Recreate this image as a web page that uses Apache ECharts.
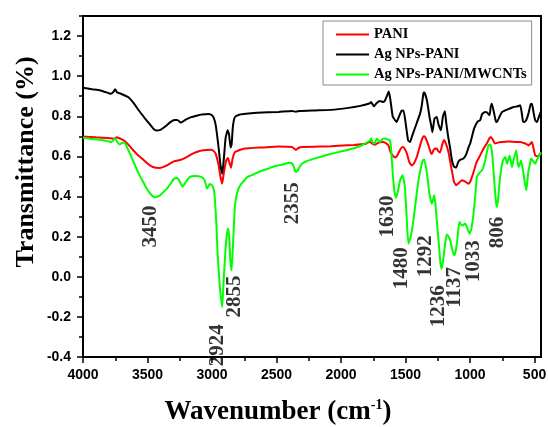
<!DOCTYPE html>
<html>
<head>
<meta charset="utf-8">
<script src="https://cdn.jsdelivr.net/npm/echarts@6/dist/echarts.min.js"></script>
<style>
html,body{margin:0;padding:0;background:#fff;}
#chart{width:548px;height:427px;}
</style>
</head>
<body>
<div id="chart"></div>
<script>
// ---- data (wavenumber cm^-1, transmittance) ----
const seriesNames = ['PANI', 'Ag NPs-PANI', 'Ag NPs-PANI/MWCNTs'];

const pani = [[4000,0.699],[3900,0.695],[3838,0.693],[3756,0.688],[3740,0.695],[3729,0.693],[3700,0.685],[3675,0.676],[3650,0.66],[3621,0.638],[3580,0.61],[3540,0.588],[3500,0.565],[3459,0.547],[3405,0.542],[3350,0.555],[3296,0.575],[3242,0.583],[3200,0.595],[3161,0.610],[3120,0.622],[3080,0.630],[3004,0.633],[2985,0.625],[2971,0.613],[2950,0.56],[2935,0.5],[2921,0.464],[2908,0.52],[2890,0.58],[2877,0.592],[2866,0.57],[2852,0.544],[2842,0.585],[2823,0.621],[2755,0.638],[2600,0.645],[2484,0.650],[2380,0.647],[2365,0.64],[2350,0.632],[2330,0.642],[2300,0.647],[2078,0.651],[1900,0.657],[1807,0.663],[1780,0.673],[1760,0.665],[1740,0.658],[1720,0.665],[1699,0.671],[1672,0.672],[1650,0.665],[1633,0.655],[1615,0.62],[1600,0.605],[1585,0.595],[1568,0.6],[1545,0.63],[1529,0.645],[1517,0.647],[1500,0.63],[1490,0.615],[1470,0.57],[1452,0.555],[1435,0.565],[1413,0.597],[1380,0.67],[1362,0.70],[1348,0.697],[1325,0.66],[1305,0.62],[1296,0.612],[1280,0.635],[1258,0.639],[1245,0.625],[1232,0.62],[1215,0.66],[1201,0.682],[1185,0.66],[1167,0.62],[1150,0.56],[1141,0.53],[1125,0.475],[1108,0.456],[1090,0.465],[1063,0.481],[1040,0.475],[1012,0.464],[995,0.48],[973,0.522],[950,0.57],[922,0.605],[895,0.64],[870,0.664],[850,0.69],[839,0.697],[825,0.685],[806,0.664],[780,0.67],[753,0.672],[700,0.674],[637,0.672],[610,0.672],[585,0.667],[565,0.662],[547,0.655],[530,0.665],[520,0.672],[508,0.64],[495,0.605],[475,0.6],[456,0.614],[450,0.62]];

const agPani = [[4000,0.942],[3930,0.935],[3865,0.929],[3800,0.915],[3783,0.912],[3760,0.925],[3751,0.935],[3735,0.918],[3716,0.915],[3680,0.905],[3648,0.895],[3600,0.86],[3567,0.829],[3520,0.79],[3486,0.763],[3450,0.735],[3432,0.729],[3400,0.732],[3360,0.75],[3323,0.771],[3290,0.782],[3269,0.782],[3242,0.769],[3200,0.785],[3161,0.796],[3120,0.803],[3080,0.809],[3026,0.812],[3000,0.805],[2985,0.79],[2971,0.755],[2950,0.65],[2935,0.56],[2921,0.514],[2908,0.59],[2895,0.69],[2879,0.730],[2868,0.71],[2856,0.644],[2848,0.66],[2838,0.75],[2823,0.796],[2790,0.808],[2755,0.812],[2650,0.818],[2484,0.822],[2380,0.826],[2350,0.823],[2320,0.826],[2200,0.829],[2078,0.832],[1943,0.842],[1850,0.852],[1807,0.859],[1775,0.866],[1767,0.871],[1745,0.85],[1725,0.865],[1699,0.876],[1672,0.871],[1659,0.879],[1645,0.9],[1630,0.923],[1618,0.885],[1600,0.8],[1591,0.79],[1570,0.772],[1550,0.8],[1530,0.828],[1516,0.829],[1500,0.77],[1480,0.68],[1465,0.672],[1450,0.7],[1415,0.763],[1388,0.812],[1375,0.85],[1361,0.915],[1354,0.918],[1334,0.879],[1315,0.8],[1300,0.75],[1292,0.721],[1275,0.79],[1258,0.796],[1245,0.76],[1226,0.730],[1210,0.8],[1195,0.825],[1185,0.77],[1170,0.7],[1154,0.64],[1140,0.58],[1125,0.55],[1108,0.544],[1090,0.575],[1070,0.585],[1051,0.589],[1030,0.61],[1009,0.65],[999,0.664],[968,0.74],[940,0.775],[922,0.78],[906,0.812],[883,0.821],[870,0.82],[849,0.805],[840,0.845],[831,0.863],[815,0.82],[800,0.775],[792,0.771],[770,0.8],[753,0.821],[725,0.83],[698,0.837],[663,0.846],[630,0.85],[611,0.855],[600,0.82],[590,0.775],[580,0.771],[565,0.78],[548,0.812],[530,0.86],[520,0.863],[508,0.82],[495,0.78],[481,0.771],[465,0.8],[450,0.825]];

const agPaniCnt = [[4000,0.693],[3960,0.69],[3946,0.688],[3900,0.685],[3865,0.683],[3800,0.675],[3783,0.671],[3765,0.68],[3751,0.691],[3735,0.672],[3716,0.660],[3695,0.668],[3675,0.666],[3655,0.64],[3635,0.613],[3600,0.56],[3567,0.513],[3540,0.48],[3513,0.447],[3480,0.415],[3445,0.397],[3405,0.405],[3380,0.42],[3350,0.439],[3320,0.465],[3296,0.488],[3269,0.492],[3250,0.475],[3229,0.450],[3200,0.475],[3174,0.497],[3134,0.502],[3080,0.497],[3060,0.485],[3053,0.472],[3039,0.439],[3025,0.455],[3017,0.463],[2998,0.455],[2985,0.43],[2977,0.380],[2965,0.25],[2958,0.131],[2945,0.0],[2935,-0.08],[2921,-0.151],[2909,-0.01],[2895,0.14],[2885,0.21],[2875,0.240],[2866,0.19],[2858,0.08],[2848,0.032],[2838,0.15],[2823,0.347],[2805,0.42],[2782,0.455],[2750,0.48],[2728,0.497],[2680,0.51],[2620,0.527],[2560,0.54],[2511,0.552],[2450,0.56],[2403,0.568],[2376,0.563],[2362,0.54],[2352,0.522],[2335,0.53],[2322,0.547],[2300,0.565],[2268,0.576],[2200,0.59],[2078,0.613],[1943,0.633],[1850,0.652],[1807,0.666],[1775,0.680],[1767,0.69],[1750,0.664],[1735,0.67],[1723,0.689],[1698,0.672],[1680,0.685],[1659,0.689],[1640,0.685],[1620,0.680],[1610,0.62],[1599,0.514],[1585,0.42],[1573,0.394],[1555,0.44],[1542,0.481],[1524,0.506],[1510,0.47],[1503,0.431],[1490,0.28],[1478,0.165],[1460,0.2],[1439,0.281],[1420,0.38],[1400,0.481],[1380,0.545],[1366,0.580],[1355,0.585],[1340,0.54],[1325,0.47],[1315,0.414],[1296,0.364],[1278,0.406],[1268,0.36],[1258,0.281],[1240,0.15],[1230,0.07],[1219,0.040],[1205,0.1],[1190,0.18],[1180,0.211],[1165,0.2],[1154,0.182],[1135,0.13],[1121,0.107],[1105,0.15],[1090,0.24],[1082,0.273],[1066,0.258],[1056,0.256],[1038,0.265],[1020,0.24],[1004,0.215],[990,0.24],[973,0.315],[960,0.4],[947,0.497],[925,0.52],[908,0.530],[895,0.55],[883,0.580],[870,0.62],[857,0.655],[844,0.66],[831,0.630],[822,0.56],[813,0.481],[800,0.38],[792,0.348],[782,0.39],[772,0.464],[760,0.53],[745,0.580],[727,0.597],[714,0.564],[704,0.58],[694,0.605],[675,0.547],[660,0.59],[642,0.630],[633,0.58],[624,0.547],[615,0.56],[605,0.580],[590,0.530],[575,0.47],[564,0.431],[555,0.48],[547,0.530],[536,0.56],[526,0.589],[510,0.575],[495,0.564],[480,0.585],[470,0.597],[450,0.62]];

// peak annotations: label text, anchor wavenumber, anchor transmittance
const peakLabels = ['3450','2924','2855','2355','1630','1480','1292','1236','1137','1033','806'];
const peakX = [3475, 2955, 2823, 2373, 1643, 1527, 1341, 1247, 1123, 976, 790];
const peakY = [0.251, -0.342, -0.098, 0.366, 0.301, 0.042, 0.102, -0.147, -0.053, 0.077, 0.221];

// axis ticks
const xMajorTicks = [500, 1000, 1500, 2000, 2500, 3000, 3500, 4000];
const xMinorTicks = [750, 1250, 1750, 2250, 2750, 3250, 3750];
const yMajorTicks = [-0.4, -0.2, 0.0, 0.2, 0.4, 0.6, 0.8, 1.0, 1.2];
const yMinorTicks = [-0.3, -0.1, 0.1, 0.3, 0.5, 0.7, 0.9, 1.1, 1.3];
const xRange = [450, 4000];
const yRange = [-0.4, 1.3];

const colors = ['#ff0000', '#000000', '#00ff00'];
const serif = "'Liberation Serif', 'Times New Roman', serif";
const sans = "'Liberation Sans', Arial, sans-serif";

const gridBox = { left: 83, right: 7, top: 16, bottom: 70, containLabel: false, outerBoundsMode: 'none' };

const chart = echarts.init(document.getElementById('chart'), null, { renderer: 'canvas' });

const lineSeries = [pani, agPani, agPaniCnt].map((d, i) => ({
  name: seriesNames[i],
  type: 'line',
  xAxisIndex: 0,
  yAxisIndex: 0,
  data: d,
  symbol: 'none',
  showSymbol: false,
  smooth: 0.15,
  lineStyle: { color: colors[i], width: 2 },
  itemStyle: { color: colors[i] },
  z: 3 + i,
  silent: true,
  animation: false
}));

const annoSeries = {
  type: 'scatter',
  xAxisIndex: 0,
  yAxisIndex: 0,
  symbolSize: 0,
  silent: true,
  z: 10,
  data: peakLabels.map((t, i) => ({ name: t, value: [peakX[i], peakY[i]] })),
  label: {
    show: true,
    position: 'inside',
    rotate: 90,
    formatter: p => p.name,
    fontFamily: serif,
    fontWeight: 'bold',
    fontSize: 21,
    color: '#000',
    align: 'center',
    verticalAlign: 'middle'
  },
  animation: false
};

chart.setOption({
  animation: false,
  backgroundColor: '#fff',
  grid: [
    Object.assign({ show: true, borderColor: '#000', borderWidth: 2, backgroundColor: 'transparent' }, gridBox),
    Object.assign({ show: false }, gridBox)
  ],
  legend: {
    data: seriesNames,
    orient: 'vertical',
    left: 323,
    top: 21,
    itemWidth: 33,
    itemHeight: 14,
    itemGap: 5,
    padding: [6, 5, 3, 12],
    borderColor: '#8a8a8a',
    borderWidth: 1,
    backgroundColor: '#fff',
    itemStyle: { color: 'rgba(0,0,0,0)', borderColor: 'rgba(0,0,0,0)', borderWidth: 0, opacity: 0 },
    textStyle: { fontFamily: serif, fontWeight: 'bold', fontSize: 14.5, color: '#000' }
  },
  xAxis: [
    {
      type: 'value', gridIndex: 0, min: xRange[0], max: xRange[1], inverse: true, position: 'bottom',
      axisLine: { show: true, onZero: false, lineStyle: { color: '#000', width: 2 } },
      axisTick: { show: true, customValues: xMajorTicks, length: 6, lineStyle: { color: '#000', width: 1.5 } },
      axisLabel: { customValues: xMajorTicks, margin: 11, fontFamily: sans, fontWeight: 'bold', fontSize: 14, color: '#000',
        formatter: v => String(v), hideOverlap: false },
      splitLine: { show: false }
    },
    {
      type: 'value', gridIndex: 1, min: xRange[0], max: xRange[1], inverse: true, position: 'bottom',
      axisLine: { show: false, onZero: false },
      axisTick: { show: true, customValues: xMinorTicks, length: 4, lineStyle: { color: '#000', width: 1.5 } },
      axisLabel: { show: false },
      splitLine: { show: false }
    }
  ],
  yAxis: [
    {
      type: 'value', gridIndex: 0, min: yRange[0], max: yRange[1], position: 'left',
      axisLine: { show: true, onZero: false, lineStyle: { color: '#000', width: 2 } },
      axisTick: { show: true, customValues: yMajorTicks, length: 6, lineStyle: { color: '#000', width: 1.5 } },
      axisLabel: { customValues: yMajorTicks, margin: 12, fontFamily: sans, fontWeight: 'bold', fontSize: 14, color: '#000',
        formatter: v => v.toFixed(1) },
      splitLine: { show: false }
    },
    {
      type: 'value', gridIndex: 1, min: yRange[0], max: yRange[1], position: 'left',
      axisLine: { show: false, onZero: false },
      axisTick: { show: true, customValues: yMinorTicks, length: 4, lineStyle: { color: '#000', width: 1.5 } },
      axisLabel: { show: false },
      splitLine: { show: false }
    }
  ],
  series: lineSeries.concat([annoSeries]),
  graphic: [
    {
      type: 'text',
      x: 26, y: 162,
      rotation: Math.PI / 2,
      style: {
        text: 'Transmittance (%)',
        font: 'bold 26px ' + serif,
        fill: '#000',
        align: 'center',
        verticalAlign: 'middle'
      },
      silent: true
    },
    {
      type: 'text',
      x: 278, y: 412,
      style: {
        text: 'Wavenumber (cm{sup|-1})',
        font: 'bold 27px ' + serif,
        fill: '#000',
        align: 'center',
        verticalAlign: 'middle',
        rich: {
          sup: { font: 'bold 14px ' + serif, fill: '#000', verticalAlign: 'top', padding: [0, 0, 14, 0] }
        }
      },
      silent: true
    }
  ]
});
</script>
</body>
</html>
